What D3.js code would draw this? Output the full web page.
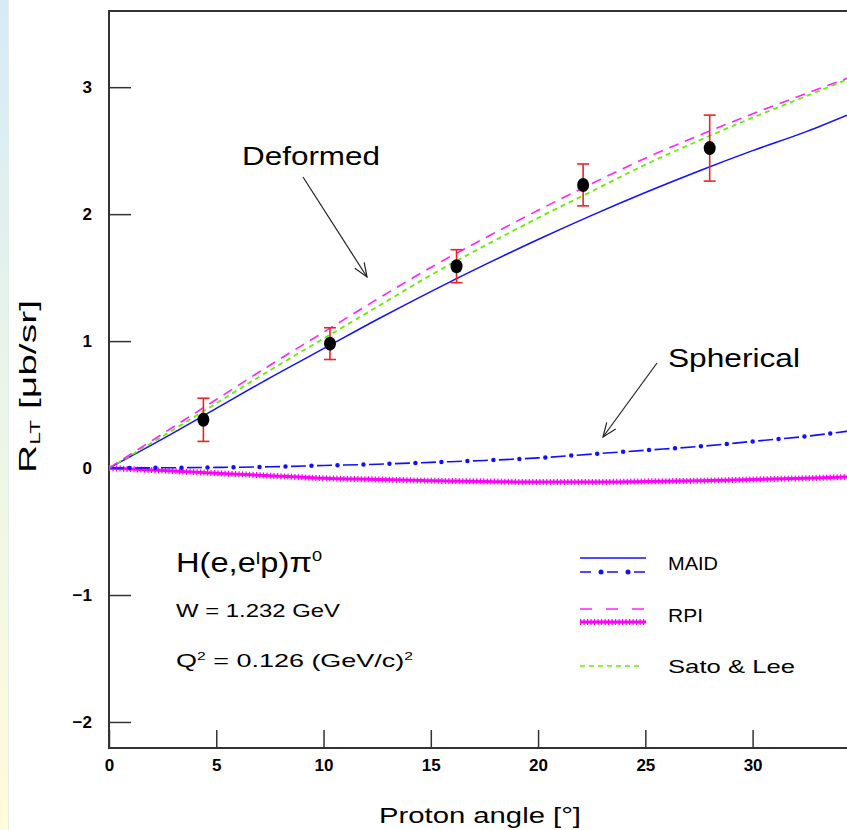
<!DOCTYPE html>
<html>
<head>
<meta charset="utf-8">
<script src="https://cdn.jsdelivr.net/npm/d3@7"></script>
<style>
  html, body { margin: 0; padding: 0; background: #ffffff; }
  svg { display: block; }
  text { font-family: "Liberation Sans", Arial, sans-serif; fill: #000; }
</style>
</head>
<body>
<svg id="chart" width="847" height="830"></svg>
<script>
// ---------------- data ----------------
const angles = [0, 2.5, 5, 7.5, 10, 12.5, 15, 17.5, 20, 22.5, 25, 27.5, 30, 32.5, 34.4];
const maidDeformed   = [0, 0.23, 0.47, 0.71, 0.94, 1.17, 1.39, 1.60, 1.80, 1.99, 2.17, 2.34, 2.50, 2.65, 2.78];
const rpiDeformed    = [0, 0.27, 0.54, 0.81, 1.07, 1.33, 1.58, 1.81, 2.03, 2.24, 2.44, 2.62, 2.79, 2.95, 3.07];
const satoLeeDeformed= [0, 0.25, 0.51, 0.77, 1.02, 1.27, 1.52, 1.75, 1.97, 2.18, 2.39, 2.58, 2.76, 2.93, 3.06];
const maidSpherical  = [0, 0.002, 0.005, 0.01, 0.02, 0.03, 0.045, 0.06, 0.08, 0.11, 0.14, 0.17, 0.21, 0.25, 0.29];
const rpiSpherical   = [0, -0.02, -0.04, -0.06, -0.08, -0.09, -0.10, -0.105, -0.11, -0.11, -0.105, -0.10, -0.09, -0.08, -0.07];

const dataAngle = [4.4, 10.3, 16.2, 22.1, 28.0];
const dataValue = [0.38, 0.98, 1.59, 2.23, 2.52];
const dataError = [0.17, 0.125, 0.13, 0.165, 0.26];

const xTicks = [0, 5, 10, 15, 20, 25, 30];
const yTicks = [-2, -1, 0, 1, 2, 3];

const legendLabels = ["MAID", "RPI", "Sato & Lee"];
const infoLines = ["W = 1.232 GeV"];

// ---------------- setup ----------------
const svg = d3.select("#chart");
const pLeft = 109, pTop = 11, pRight = 847, pBottom = 748;

const x = d3.scaleLinear().domain([0, 34.4]).range([pLeft, pRight]);
const y = d3.scaleLinear().domain([-2.205, 3.6]).range([pBottom, pTop]);

// left decorative gradient strip
const defs = svg.append("defs");
const grad = defs.append("linearGradient").attr("id", "strip").attr("x1", 0).attr("y1", 0).attr("x2", 0).attr("y2", 1);
grad.append("stop").attr("offset", "0%").attr("stop-color", "#d5ebf8");
grad.append("stop").attr("offset", "55%").attr("stop-color", "#eef6e6");
grad.append("stop").attr("offset", "100%").attr("stop-color", "#fffbdc");
svg.append("rect").attr("x", 0).attr("y", 0).attr("width", 8).attr("height", 830).attr("fill", "url(#strip)");
svg.append("line").attr("x1", 8.5).attr("x2", 8.5).attr("y1", 0).attr("y2", 830).attr("stroke", "#e4eee4").attr("stroke-width", 1);

defs.append("clipPath").attr("id", "plotclip").append("rect")
  .attr("x", pLeft).attr("y", pTop).attr("width", pRight - pLeft + 2).attr("height", pBottom - pTop);

// axes
const fmt = d3.format("d");
const yAxis = d3.axisLeft(y).tickValues(yTicks).tickFormat(fmt).tickSize(-22).tickPadding(17);
const gy = svg.append("g").attr("transform", `translate(${pLeft},0)`).call(yAxis);
gy.select(".domain").remove();
gy.selectAll(".tick line").attr("stroke", "#333").attr("stroke-width", 1.5);
gy.selectAll(".tick text").attr("font-size", 17).attr("font-weight", "bold")
  .attr("font-family", "'Liberation Sans', Arial, sans-serif").attr("fill", "#000");

const xAxis = d3.axisBottom(x).tickValues(xTicks).tickFormat(fmt).tickSize(-18).tickPadding(11);
const gx = svg.append("g").attr("transform", `translate(0,${pBottom})`).call(xAxis);
gx.select(".domain").remove();
gx.selectAll(".tick line").attr("stroke", "#333").attr("stroke-width", 1.5);
gx.selectAll(".tick text").attr("font-size", 17).attr("font-weight", "bold")
  .attr("font-family", "'Liberation Sans', Arial, sans-serif").attr("fill", "#000");

// frame
svg.append("path")
  .attr("d", `M${pRight + 2},${pTop} L${pLeft},${pTop} L${pLeft},${pBottom} L${pRight + 2},${pBottom}`)
  .attr("fill", "none").attr("stroke", "#333").attr("stroke-width", 2);

// axis titles
svg.append("text").attr("x", 379).attr("y", 823).attr("font-size", 22)
  .attr("textLength", 202).attr("lengthAdjust", "spacingAndGlyphs").text("Proton angle [°]");

const yl = svg.append("text").attr("transform", "translate(36,473) rotate(-90)")
  .attr("font-size", 24).attr("textLength", 173).attr("lengthAdjust", "spacingAndGlyphs");
yl.append("tspan").text("R");
yl.append("tspan").attr("font-size", 14).attr("dy", 4).text("LT");
yl.append("tspan").attr("dy", -4).text(" [μb/sr]");

// curves
const plot = svg.append("g").attr("clip-path", "url(#plotclip)");
const line = d3.line().x((d, i) => x(angles[i])).y(d => y(d)).curve(d3.curveMonotoneX);

// RPI spherical: thick stippled magenta
plot.append("path").attr("d", line(rpiSpherical)).attr("fill", "none")
  .attr("stroke", "#ff00ff").attr("stroke-width", 3);
plot.append("path").attr("d", line(rpiSpherical)).attr("fill", "none")
  .attr("stroke", "#ff00ff").attr("stroke-width", 6).attr("stroke-dasharray", "1.2,2.3");

// MAID spherical: dash-dot blue
plot.append("path").attr("d", line(maidSpherical)).attr("fill", "none")
  .attr("stroke", "#1010ff").attr("stroke-width", 1.6).attr("stroke-dasharray", "15,11");
plot.append("path").attr("d", line(maidSpherical)).attr("fill", "none")
  .attr("stroke", "#1010ff").attr("stroke-width", 4.5).attr("stroke-linecap", "round")
  .attr("stroke-dasharray", "0,26").attr("stroke-dashoffset", -20.5);

// MAID deformed: solid blue
plot.append("path").attr("d", line(maidDeformed)).attr("fill", "none")
  .attr("stroke", "#1010ff").attr("stroke-width", 1.5);
// Sato & Lee: green short dashes
plot.append("path").attr("d", line(satoLeeDeformed)).attr("fill", "none")
  .attr("stroke", "#66ee00").attr("stroke-width", 1.8).attr("stroke-dasharray", "5,4");
// RPI deformed: magenta dashed
plot.append("path").attr("d", line(rpiDeformed)).attr("fill", "none")
  .attr("stroke", "#ff22ff").attr("stroke-width", 1.6).attr("stroke-dasharray", "10,7");

// data points with error bars
const pts = svg.append("g");
dataAngle.forEach((a, i) => {
  const cx = x(a), v = dataValue[i], e = dataError[i];
  pts.append("line").attr("x1", cx).attr("x2", cx).attr("y1", y(v - e)).attr("y2", y(v + e))
    .attr("stroke", "#ee2222").attr("stroke-width", 1.6);
  [v - e, v + e].forEach(t => pts.append("line").attr("x1", cx - 6).attr("x2", cx + 6)
    .attr("y1", y(t)).attr("y2", y(t)).attr("stroke", "#ee2222").attr("stroke-width", 1.6));
  pts.append("ellipse").attr("cx", cx).attr("cy", y(v)).attr("rx", 6).attr("ry", 7).attr("fill", "#000");
});

// annotations
function arrow(x1, y1, x2, y2) {
  const g = svg.append("g").attr("stroke", "#222").attr("stroke-width", 1.2).attr("fill", "none");
  g.append("line").attr("x1", x1).attr("y1", y1).attr("x2", x2).attr("y2", y2);
  const ang = Math.atan2(y2 - y1, x2 - x1), L = 15, w = 0.38;
  g.append("path").attr("d",
    `M${x2 - L * Math.cos(ang - w)},${y2 - L * Math.sin(ang - w)} L${x2},${y2} L${x2 - L * Math.cos(ang + w)},${y2 - L * Math.sin(ang + w)}`);
}
svg.append("text").attr("x", 242).attr("y", 165).attr("font-size", 26)
  .attr("textLength", 138).attr("lengthAdjust", "spacingAndGlyphs").text("Deformed");
arrow(303, 177, 367, 277);

svg.append("text").attr("x", 668).attr("y", 367).attr("font-size", 26)
  .attr("textLength", 132).attr("lengthAdjust", "spacingAndGlyphs").text("Spherical");
arrow(657, 363, 603, 437);

// reaction info
const h = svg.append("text").attr("x", 176).attr("y", 572).attr("font-size", 27)
  .attr("textLength", 146).attr("lengthAdjust", "spacingAndGlyphs");
h.append("tspan").text("H(e,e");
h.append("tspan").attr("font-size", 17).attr("dy", -8).text("l");
h.append("tspan").attr("dy", 8).text("p)π");
h.append("tspan").attr("font-size", 15).attr("dy", -11).text("0");

svg.append("text").attr("x", 176).attr("y", 617).attr("font-size", 19)
  .attr("textLength", 164).attr("lengthAdjust", "spacingAndGlyphs").text(infoLines[0]);
const q = svg.append("text").attr("x", 176).attr("y", 667).attr("font-size", 19)
  .attr("textLength", 237).attr("lengthAdjust", "spacingAndGlyphs");
q.append("tspan").text("Q");
q.append("tspan").attr("font-size", 11).attr("dy", -7).text("2");
q.append("tspan").attr("dy", 7).text(" = 0.126 (GeV/c)");
q.append("tspan").attr("font-size", 11).attr("dy", -7).text("2");

// legend
const lg = svg.append("g");
lg.append("line").attr("x1", 580).attr("x2", 646).attr("y1", 558).attr("y2", 558)
  .attr("stroke", "#1010ff").attr("stroke-width", 1.5);
lg.append("line").attr("x1", 580).attr("x2", 646).attr("y1", 572).attr("y2", 572)
  .attr("stroke", "#1010ff").attr("stroke-width", 1.5).attr("stroke-dasharray", "11,16");
[601, 628].forEach(cx => lg.append("circle").attr("cx", cx).attr("cy", 572).attr("r", 2.5).attr("fill", "#1010ff"));
lg.append("text").attr("x", 668).attr("y", 570).attr("font-size", 19)
  .attr("textLength", 50).attr("lengthAdjust", "spacingAndGlyphs").text(legendLabels[0]);

lg.append("line").attr("x1", 580).attr("x2", 646).attr("y1", 609).attr("y2", 609)
  .attr("stroke", "#ff22ff").attr("stroke-width", 1.6).attr("stroke-dasharray", "12,14");
lg.append("line").attr("x1", 580).attr("x2", 646).attr("y1", 622).attr("y2", 622)
  .attr("stroke", "#ff00ff").attr("stroke-width", 3);
lg.append("line").attr("x1", 580).attr("x2", 646).attr("y1", 622).attr("y2", 622)
  .attr("stroke", "#ff00ff").attr("stroke-width", 6).attr("stroke-dasharray", "1.2,2.3");
lg.append("text").attr("x", 668).attr("y", 622).attr("font-size", 19)
  .attr("textLength", 35).attr("lengthAdjust", "spacingAndGlyphs").text(legendLabels[1]);

lg.append("line").attr("x1", 580).attr("x2", 642).attr("y1", 666).attr("y2", 666)
  .attr("stroke", "#66ee00").attr("stroke-width", 1.6).attr("stroke-dasharray", "5,4");
lg.append("text").attr("x", 668).attr("y", 673).attr("font-size", 19)
  .attr("textLength", 127).attr("lengthAdjust", "spacingAndGlyphs").text(legendLabels[2]);
</script>
</body>
</html>
